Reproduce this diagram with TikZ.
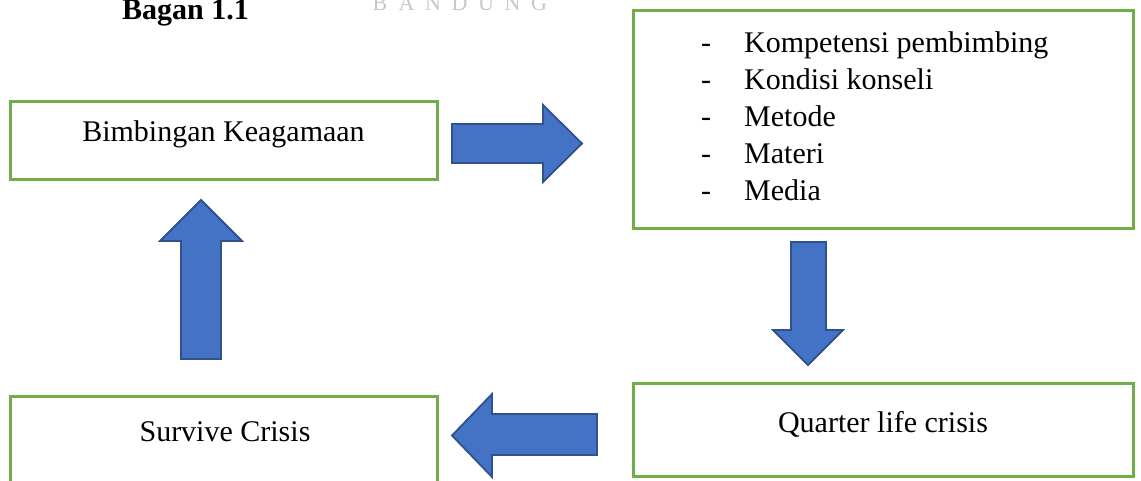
\documentclass[tikz,border=0pt]{standalone}
\usepackage{fontspec}
\setmainfont{Liberation Serif}
\definecolor{boxgreen}{RGB}{112,173,71}
\definecolor{arrowblue}{RGB}{68,114,196}
\definecolor{arrowedge}{RGB}{47,82,143}
\tikzset{
    box/.style={draw=boxgreen,line width=3pt,fill=white,inner sep=0pt},
    txt/.style={anchor=base,inner sep=0pt,font=\fontsize{30}{36}\selectfont},
    blockarrow/.style={draw=arrowedge,line width=1.8pt,fill=arrowblue,line join=miter}
}
\begin{document}
\begin{tikzpicture}[x=1pt,y=-1pt]
                \useasboundingbox (0,0) rectangle (1141,480);
                \clip (0,0) rectangle (1141,480);
                \foreach \ch [count=\i] in {B,A,N,D,U,N,G}
                    \node[txt,text=black!22,font=\fontsize{22}{26}\selectfont] (wm\i) at ({380+26.5*(\i-1)},10) {\ch};
                \node[txt,anchor=base west,font=\fontsize{30}{36}\selectfont\bfseries] (title) at (122,19) {Bagan 1.1};
                \node[box,minimum width=427pt,minimum height=78pt] (bimb) at (223.5,140) {};
                \node[box,minimum width=500pt,minimum height=218pt] (aspek) at (883,119) {};
                \node[box,minimum width=500pt,minimum height=93pt] (qlc) at (883,429.5) {};
                \node[box,minimum width=427pt,minimum height=94pt] (survive) at (223.5,443) {};
                \node[txt] (bimbtxt) at (bimb.center |- 0,141) {Bimbingan Keagamaan};
                \node[txt] (qlctxt) at (qlc.center |- 0,432) {Quarter life crisis};
                \node[txt] (survivetxt) at (225,441) {Survive Crisis};
                \foreach \entry [count=\i] in {Kompetensi pembimbing,Kondisi konseli,Metode,Materi,Media} {
                    \node[txt,anchor=base west] (dash\i) at (701,{52+37*(\i-1)}) {-};
                    \node[txt,anchor=base west] (aspek\i) at (744,{52+37*(\i-1)}) {\entry};
                }
                % block arrows
                \draw[blockarrow] (452,124) -- (543,124) -- (543,105) -- (582,143.5) -- (543,182) -- (543,163) -- (452,163) -- cycle;
                \draw[blockarrow] (791,242) -- (826,242) -- (826,330) -- (843,330) -- (808,365) -- (773,330) -- (791,330) -- cycle;
                \draw[blockarrow] (597,414) -- (492,414) -- (492,394) -- (452,435.5) -- (492,477) -- (492,455) -- (597,455) -- cycle;
                \draw[blockarrow] (181,359) -- (181,241) -- (160,241) -- (201,200) -- (242,241) -- (221,241) -- (221,359) -- cycle;
            \end{tikzpicture}
\end{document}
